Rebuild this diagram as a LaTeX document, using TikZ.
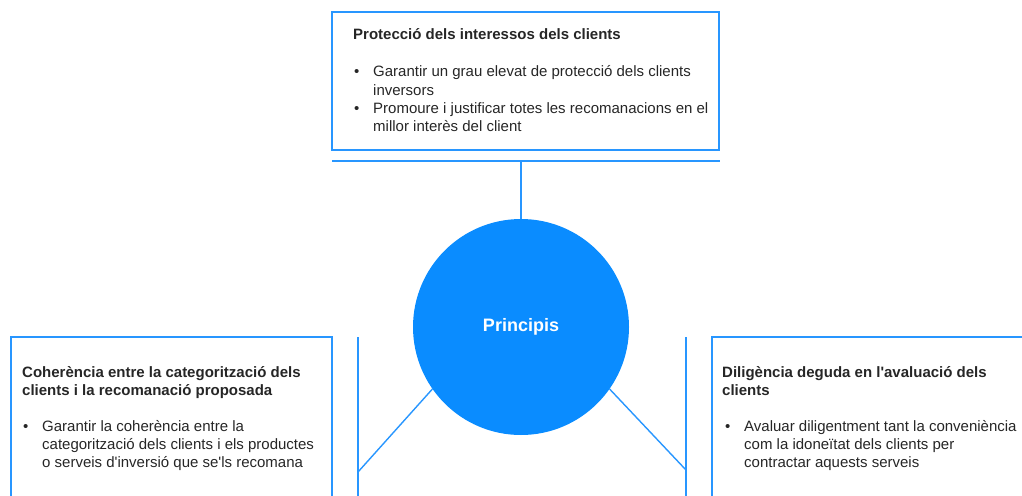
\documentclass[tikz,border=0pt]{standalone}
\usepackage{fontspec}
\setmainfont{Liberation Sans}[Ligatures=TeXOff]
\definecolor{pblue}{RGB}{10,140,255}
\definecolor{lblue}{RGB}{40,150,255}
\begin{document}
\begin{tikzpicture}[x=1pt,y=-1pt,
  frame/.style={draw=lblue,line width=1.5pt},
  conn/.style={draw=lblue,line width=1.4pt},
  ttl/.style={anchor=base west,inner sep=0pt,font=\fontsize{15}{18}\selectfont\bfseries,text=black!85},
  txt/.style={anchor=base west,inner sep=0pt,font=\fontsize{15}{18}\selectfont,text=black!85},
  bul/.style={anchor=base west,inner sep=0pt,font=\fontsize{15}{18}\selectfont,text=black!85}]
\useasboundingbox (0,0) rectangle (1022,495);
\begin{scope}
\clip (0,0) rectangle (1022,495);
% top box
\draw[frame] (332,12) rectangle (719,150);
\draw[conn] (332,161) -- (720,161);
% left box
\draw[frame] (11,337) rectangle (332,510);
\draw[conn] (358,337) -- (358,510);
% right box
\draw[frame] (712,337) rectangle (1030,510);
\draw[conn] (686,337) -- (686,510);
% circle
\node[circle,fill=pblue,minimum size=216pt,inner sep=0pt] (c) at (521,327) {};
\node[font=\fontsize{18}{20}\selectfont\bfseries,text=white] (clab) at (521,327) {Principis};
\coordinate (tc) at (521,161);
\coordinate (lc) at (358,472);
\coordinate (rc) at (686,470);
\draw[conn] (tc) -- (c.north);
\draw[conn] (c.-145) -- (lc);
\draw[conn] (c.-35) -- (rc);
\end{scope}
% top texts
\node[ttl] (t0) at (353,40) {Protecció dels interessos dels clients};
\node[bul] (tb1) at (354,77) {•};
\node[txt] (t1) at (373,77) {Garantir un grau elevat de protecció dels clients};
\node[txt] (t2) at (373,95) {inversors};
\node[bul] (tb2) at (354,113) {•};
\node[txt] (t3) at (373,113) {Promoure i justificar totes les recomanacions en el};
\node[txt] (t4) at (373,131) {millor interès del client};
% left texts
\node[ttl] (l0) at (22,377) {Coherència entre la categorització dels};
\node[ttl] (l1) at (22,395) {clients i la recomanació proposada};
\node[bul] (lb1) at (23,431) {•};
\node[txt] (l2) at (42,431) {Garantir la coherència entre la};
\node[txt] (l3) at (42,449) {categorització dels clients i els productes};
\node[txt] (l4) at (42,467) {o serveis d'inversió que se'ls recomana};
% right texts
\node[ttl] (r0) at (722,377) {Diligència deguda en l'avaluació dels};
\node[ttl] (r1) at (722,395) {clients};
\node[bul] (rb1) at (725,431) {•};
\node[txt] (r2) at (744,431) {Avaluar diligentment tant la conveniència};
\node[txt] (r3) at (744,449) {com la idoneïtat dels clients per};
\node[txt] (r4) at (744,467) {contractar aquests serveis};
\end{tikzpicture}
\end{document}
